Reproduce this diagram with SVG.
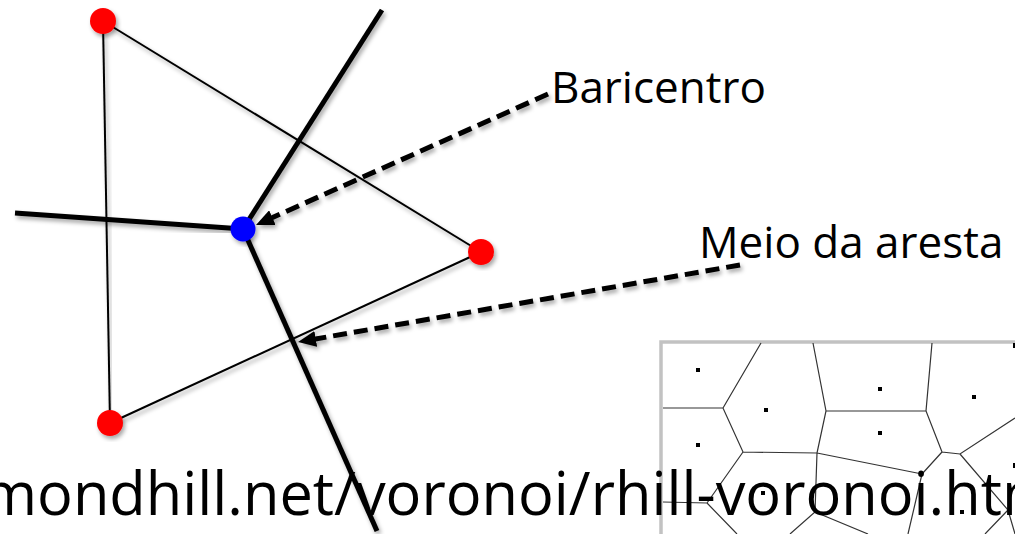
<svg xmlns="http://www.w3.org/2000/svg" width="1015" height="534" viewBox="0 0 1015 534">
<style>
  .lbl { font-family: "Open Sans", "Liberation Sans", sans-serif; fill: #000; }
  .thin { stroke: #000; stroke-width: 2; fill: none; }
  .thick { stroke: #000; stroke-width: 5; fill: none; stroke-linecap: butt; }
  .dash { stroke: #000; stroke-width: 5; fill: none; stroke-dasharray: 14 7; }
  .site { fill: #ff0000; }
  .vor { stroke: #333; stroke-width: 1.2; fill: none; }
  .vdot { fill: #000; }
  .sh { filter: url(#shadow); }
</style>
<defs>
  <filter id="shadow" x="-20%" y="-20%" width="140%" height="140%">
    <feDropShadow dx="2" dy="3" stdDeviation="2" flood-color="#000" flood-opacity="0.35"/>
  </filter>
  <marker id="arrow" viewBox="0 0 18 16" refX="8" refY="8" markerWidth="18" markerHeight="16" markerUnits="userSpaceOnUse" orient="auto">
    <path d="M0,0 L18,8 L0,16 z" fill="#000"/>
  </marker>
  <clipPath id="insetClip">
    <rect x="661" y="342" width="360" height="200"/>
  </clipPath>
</defs>
<rect width="1015" height="534" fill="#fff"/>

<g id="voronoi-inset">
  <rect x="661" y="342" width="360" height="200" fill="#fff" stroke="#c2c2c2" stroke-width="3.5"/>
  <g clip-path="url(#insetClip)">
    <path class="vor" d="M761,343 L723,408 M663,408 L723,408 L743,452 L817,453 M813,343 L826,411 L817,453 M826,411 L926,411 M932,343 L926,411 L942,452 L960,454 L1015,418 M942,452 L922,474 M817,453 L922,474 M817,453 L815,512 L790,534 M815,512 L868,534 M922,474 L908,534 M960,454 L1008,510 L1015,534 M1008,510 L985,534 M743,452 L707,503 L663,502 M707,503 L737,534"/>
    <g class="vdot">
      <rect x="696" y="368" width="4" height="4"/>
      <rect x="764" y="408" width="4" height="4"/>
      <rect x="878" y="387" width="4" height="4"/>
      <rect x="972" y="395" width="4" height="4"/>
      <rect x="696" y="443" width="4" height="4"/>
      <rect x="878" y="431" width="4" height="4"/>
      <rect x="1013" y="343" width="3" height="5"/>
      <rect x="1013" y="463" width="3" height="5"/>
      <rect x="761" y="491" width="4" height="4"/>
      <rect x="960" y="510" width="4" height="4"/>
    </g>
  </g>
</g>

<g id="url-label">
  <text class="lbl" x="-18" y="515" font-size="59.5">mondhill.net/voronoi/rhill-voronoi.htm</text>
</g>

<g id="connectors">
  <line class="thin sh" x1="103" y1="21" x2="110" y2="423"/>
  <line class="thin sh" x1="103" y1="21" x2="481" y2="252"/>
  <line class="thin sh" x1="481" y1="252" x2="110" y2="423"/>
  <line class="thick sh" x1="382" y1="10" x2="243" y2="229"/>
  <line class="thick sh" x1="15" y1="213" x2="243" y2="229"/>
  <line class="thick sh" x1="243" y1="229" x2="377" y2="531"/>
  <line class="dash sh" x1="548" y1="94" x2="265.1" y2="220.9" marker-end="url(#arrow)"/>
  <line class="dash sh" x1="740" y1="265" x2="307.9" y2="340.3" marker-end="url(#arrow)"/>
</g>

<g id="site-top-left"><circle class="site sh" cx="103" cy="21" r="13"/></g>
<g id="site-right"><circle class="site sh" cx="481" cy="252" r="13"/></g>
<g id="site-bottom-left"><circle class="site sh" cx="110" cy="423" r="13"/></g>
<g id="vertex-blue"><circle class="sh" cx="243" cy="229" r="12.5" fill="#0000ff"/></g>

<g id="label-baricentro">
  <text class="lbl" x="551" y="103" font-size="44">Baricentro</text>
</g>
<g id="label-meio">
  <text class="lbl" x="699" y="258" font-size="44">Meio da aresta</text>
</g>
</svg>
